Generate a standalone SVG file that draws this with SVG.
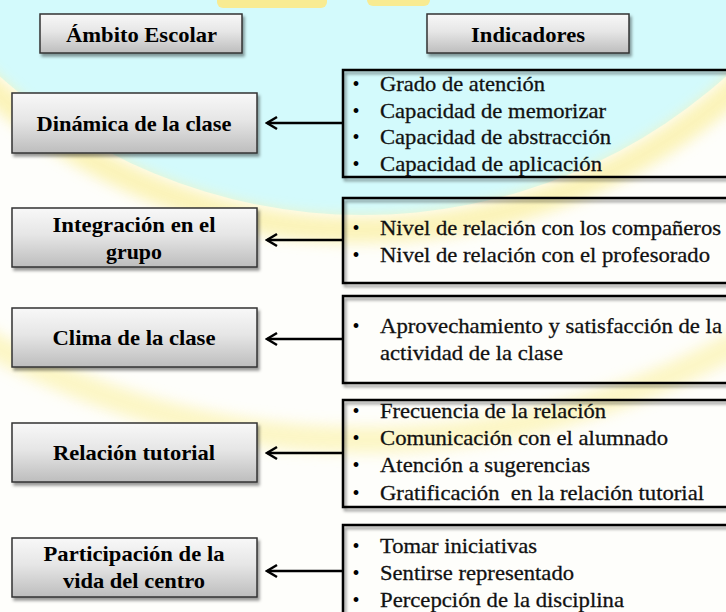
<svg xmlns="http://www.w3.org/2000/svg" width="726" height="612" viewBox="0 0 726 612">
<defs>
<style>
.hd{font-family:"Liberation Serif","Times New Roman",serif;font-weight:bold;font-size:22px;fill:#000;text-anchor:middle}
.it{font-family:"Liberation Serif","Times New Roman",serif;font-size:22px;fill:#111;stroke:#111;stroke-width:0.3}
.bu{font-family:"Liberation Serif","Times New Roman",serif;font-size:20px;fill:#000;text-anchor:middle}
.lb{fill:url(#gb);stroke:#333;stroke-width:1.5;filter:url(#sh)}
.rb{fill:none;stroke:#000;stroke-width:2.5;filter:url(#sh)}
.cn{stroke:#000;stroke-width:2.5;fill:none;marker-end:url(#ah)}
</style>
<linearGradient id="gb" x1="0" y1="0" x2="0" y2="1">
<stop offset="0" stop-color="#f8f8f8"/>
<stop offset="0.45" stop-color="#e6e6e6"/>
<stop offset="1" stop-color="#bdbdbd"/>
</linearGradient>
<filter id="sh" x="-10%" y="-10%" width="130%" height="140%">
<feDropShadow dx="2" dy="3" stdDeviation="1.5" flood-color="#000" flood-opacity="0.4"/>
</filter>
<filter id="bl" x="-20%" y="-20%" width="140%" height="140%">
<feGaussianBlur stdDeviation="7"/>
</filter>
<marker id="ah" viewBox="-12 -8 14 16" refX="0" refY="0" markerWidth="14" markerHeight="16" markerUnits="userSpaceOnUse" orient="auto">
<path d="M-10,-6 L0,0 L-10,6" fill="none" stroke="#000" stroke-width="2.5" stroke-linejoin="miter"/>
</marker>
</defs>

<g id="background">
<rect x="0" y="0" width="726" height="612" fill="#fefefb"/>
<circle cx="363" cy="-330" r="545" fill="#d3fafc"/>
<circle cx="363" cy="-330" r="560" fill="none" stroke="#fbf1a8" stroke-width="26" opacity="0.8" filter="url(#bl)"/>
<circle cx="363" cy="-330" r="770" fill="none" stroke="#fcf4b8" stroke-width="26" opacity="0.8" filter="url(#bl)"/>
<rect x="217" y="-6" width="110" height="14" rx="6" fill="#f8eb92"/>
<rect x="367" y="-6" width="63" height="12" rx="6" fill="#f8eb92"/>
</g>

<g id="connectors">
<line class="cn" x1="343" y1="123" x2="267" y2="123"/>
<line class="cn" x1="343" y1="240" x2="267" y2="240"/>
<line class="cn" x1="343" y1="339" x2="267" y2="339"/>
<line class="cn" x1="343" y1="453" x2="267" y2="453"/>
<line class="cn" x1="343" y1="571" x2="267" y2="571"/>
</g>

<g id="header-ambito">
<rect class="lb" x="40" y="14" width="202" height="39"/>
<text class="hd" x="141.5" y="42" textLength="151" lengthAdjust="spacingAndGlyphs">Ámbito Escolar</text>
</g>
<g id="header-indicadores">
<rect class="lb" x="427" y="14" width="202" height="39"/>
<text class="hd" x="528" y="42" textLength="114" lengthAdjust="spacingAndGlyphs">Indicadores</text>
</g>

<g id="dinamica">
<rect class="lb" x="12" y="93" width="245" height="60"/>
<text class="hd" x="134" y="131" textLength="195" lengthAdjust="spacingAndGlyphs">Dinámica de la clase</text>
</g>
<g id="integracion">
<rect class="lb" x="12" y="208" width="245" height="59"/>
<text class="hd" x="134" y="232" textLength="163" lengthAdjust="spacingAndGlyphs">Integración en el</text>
<text class="hd" x="134" y="259" textLength="56" lengthAdjust="spacingAndGlyphs">grupo</text>
</g>
<g id="clima">
<rect class="lb" x="12" y="308" width="245" height="59"/>
<text class="hd" x="134" y="345" textLength="163" lengthAdjust="spacingAndGlyphs">Clima de la clase</text>
</g>
<g id="relacion">
<rect class="lb" x="12" y="423" width="245" height="59"/>
<text class="hd" x="134" y="460" textLength="162" lengthAdjust="spacingAndGlyphs">Relación tutorial</text>
</g>
<g id="participacion">
<rect class="lb" x="12" y="538" width="245" height="59"/>
<text class="hd" x="134" y="561" textLength="181" lengthAdjust="spacingAndGlyphs">Participación de la</text>
<text class="hd" x="134" y="588" textLength="142" lengthAdjust="spacingAndGlyphs">vida del centro</text>
</g>

<g id="ind-dinamica">
<rect class="rb" x="343" y="70" width="400" height="107"/>
<text class="bu" x="356" y="91">•</text><text class="it" x="380" y="91" textLength="165" lengthAdjust="spacingAndGlyphs">Grado de atención</text>
<text class="bu" x="356" y="117.5">•</text><text class="it" x="380" y="117.5" textLength="226" lengthAdjust="spacingAndGlyphs">Capacidad de memorizar</text>
<text class="bu" x="356" y="144">•</text><text class="it" x="380" y="144" textLength="231" lengthAdjust="spacingAndGlyphs">Capacidad de abstracción</text>
<text class="bu" x="356" y="171">•</text><text class="it" x="380" y="171" textLength="222" lengthAdjust="spacingAndGlyphs">Capacidad de aplicación</text>
</g>
<g id="ind-integracion">
<rect class="rb" x="343" y="198" width="400" height="85"/>
<text class="bu" x="356" y="235">•</text><text class="it" x="380" y="235" textLength="341" lengthAdjust="spacingAndGlyphs">Nivel de relación con los compañeros</text>
<text class="bu" x="356" y="262">•</text><text class="it" x="380" y="262" textLength="330" lengthAdjust="spacingAndGlyphs">Nivel de relación con el profesorado</text>
</g>
<g id="ind-clima">
<rect class="rb" x="343" y="296" width="400" height="87"/>
<text class="bu" x="356" y="333">•</text><text class="it" x="380" y="333" textLength="342" lengthAdjust="spacingAndGlyphs">Aprovechamiento y satisfacción de la</text>
<text class="it" x="380" y="360" textLength="183" lengthAdjust="spacingAndGlyphs">actividad de la clase</text>
</g>
<g id="ind-relacion">
<rect class="rb" x="343" y="400" width="400" height="107"/>
<text class="bu" x="356" y="418">•</text><text class="it" x="380" y="418" textLength="226" lengthAdjust="spacingAndGlyphs">Frecuencia de la relación</text>
<text class="bu" x="356" y="445">•</text><text class="it" x="380" y="445" textLength="288" lengthAdjust="spacingAndGlyphs">Comunicación con el alumnado</text>
<text class="bu" x="356" y="472">•</text><text class="it" x="380" y="472" textLength="210" lengthAdjust="spacingAndGlyphs">Atención a sugerencias</text>
<text class="bu" x="356" y="500">•</text><text class="it" x="380" y="500" textLength="324" lengthAdjust="spacingAndGlyphs" xml:space="preserve">Gratificación  en la relación tutorial</text>
</g>
<g id="ind-participacion">
<rect class="rb" x="343" y="525" width="400" height="110"/>
<text class="bu" x="356" y="553">•</text><text class="it" x="380" y="553" textLength="157" lengthAdjust="spacingAndGlyphs">Tomar iniciativas</text>
<text class="bu" x="356" y="580">•</text><text class="it" x="380" y="580" textLength="194" lengthAdjust="spacingAndGlyphs">Sentirse representado</text>
<text class="bu" x="356" y="607">•</text><text class="it" x="380" y="607" textLength="244" lengthAdjust="spacingAndGlyphs">Percepción de la disciplina</text>
</g>
</svg>
